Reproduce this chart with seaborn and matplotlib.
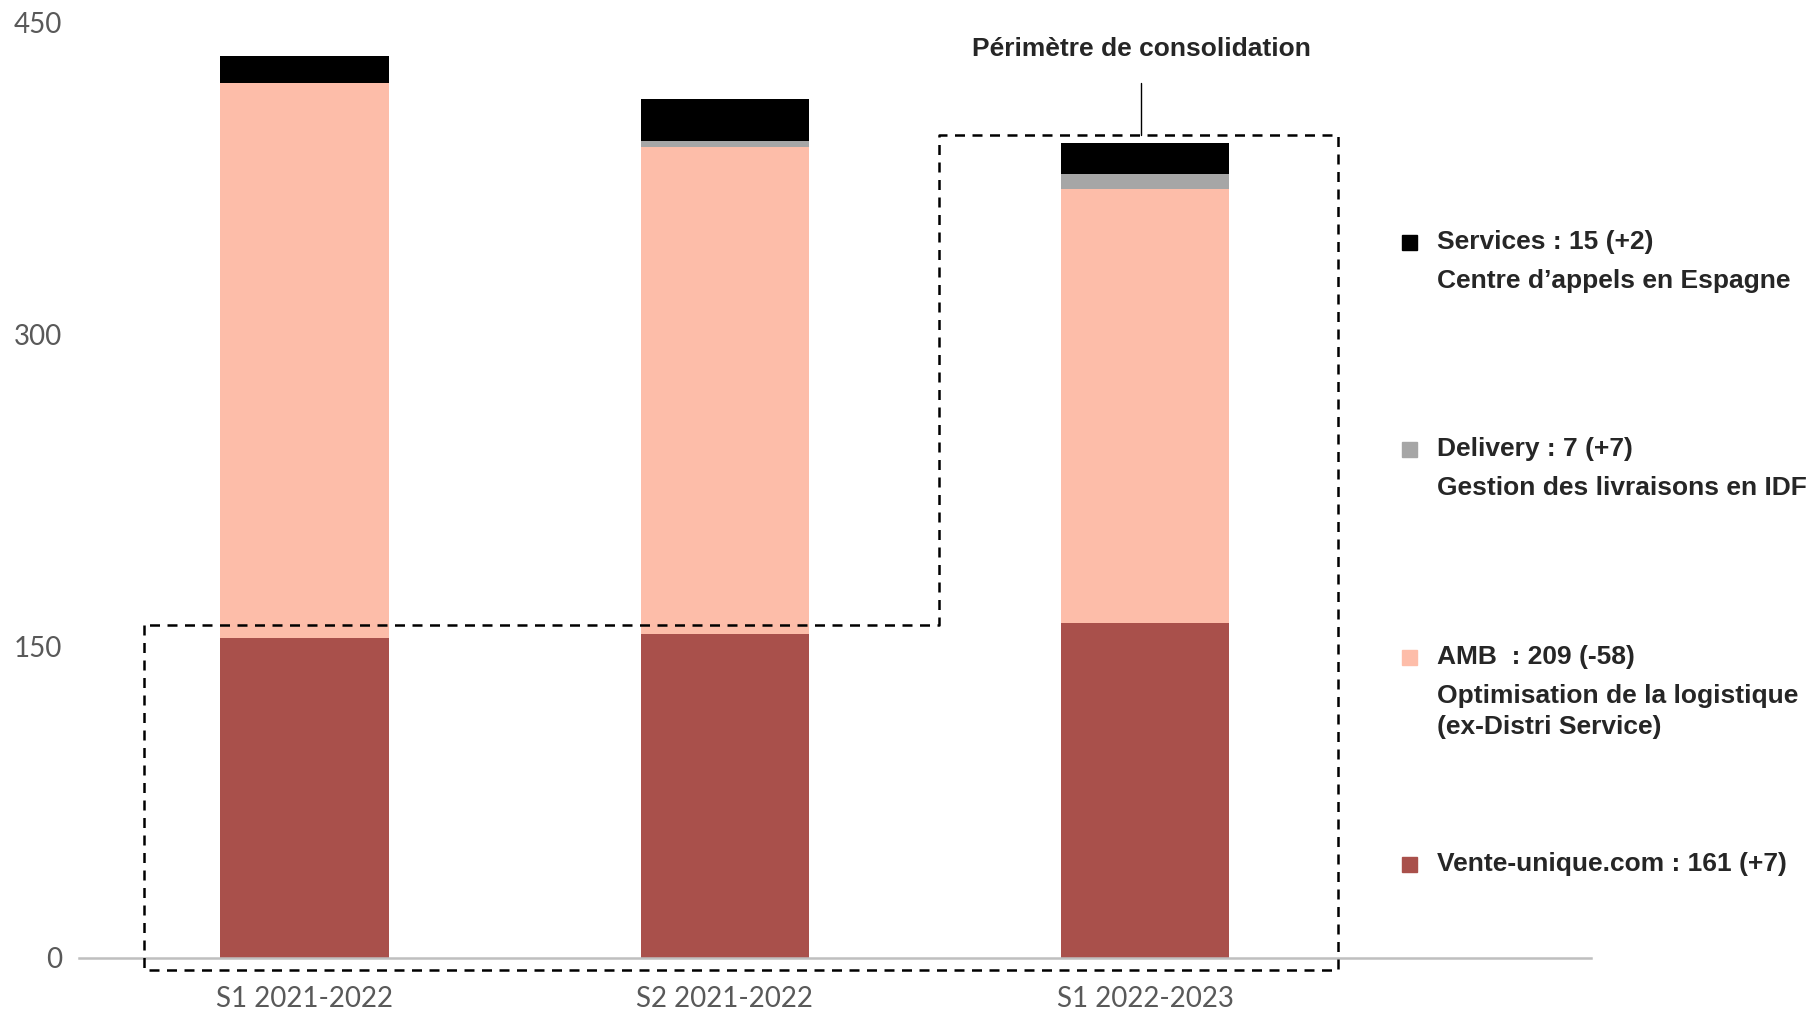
import numpy as np
import pandas as pd
import matplotlib
matplotlib.use("Agg")
import matplotlib.pyplot as plt
import seaborn as sns

# data
periods = ["S1 2021-2022", "S2 2021-2022", "S1 2022-2023"]
vente_unique = [154, 156, 161]
amb = [267, 234, 209]
delivery = [0, 3, 7]
services = [13, 20, 15]

layers = ["Vente-unique.com", "AMB", "Delivery", "Services"]
colors = ["#A9504B", "#FDBDA9", "#A6A6A6", "#000000"]
legend_titles = ["Vente-unique.com : 161 (+7)", "AMB  : 209 (-58)",
                 "Delivery : 7 (+7)", "Services : 15 (+2)"]
legend_subs = ["", "Optimisation de la logistique\n(ex-Distri Service)",
               "Gestion des livraisons en IDF", "Centre d\u2019appels en Espagne"]

sns.set_style("white")
plt.rcParams['font.family'] = ['Liberation Sans', 'DejaVu Sans']

fig = plt.figure(figsize=(18.14, 10.13), dpi=100)
ax = fig.add_axes([0.0434, 0.0543, 0.8336, 0.9237])

values = np.array([vente_unique, amb, delivery, services], dtype=float)
bottoms = np.vstack([np.zeros(len(periods)), np.cumsum(values, axis=0)[:-1]])

for i, name in enumerate(layers):
    df = pd.DataFrame({"period": periods, "value": values[i], "bottom": bottoms[i]})
    sns.barplot(data=df, x="period", y="value", bottom=df["bottom"], color=colors[i],
                width=0.40, ax=ax, saturation=1, linewidth=0)

ax.set_xlim(-0.537, 3.06)
ax.set_ylim(0, 450)
ax.set_yticks([0, 150, 300, 450])
ax.set_xlabel("")
ax.set_ylabel("")
for s in ["left", "right", "top"]:
    ax.spines[s].set_visible(False)
ax.spines["bottom"].set_color("#BFBFBF")
ax.spines["bottom"].set_linewidth(1.8)
ax.tick_params(axis="both", length=0, labelsize=20, labelcolor="#595959")
ax.tick_params(axis="y", pad=12)
ax.tick_params(axis="x", pad=20)
for lab in ax.get_xticklabels() + ax.get_yticklabels():
    lab.set_fontfamily("Lato")

# consolidation perimeter (dashed outline)
px = [-0.382, -0.382, 2.459, 2.459, 1.510, 1.510, -0.382]
py = [160, -5.6, -5.6, 396, 396, 160, 160]
ax.plot(px, py, color="black", lw=1.8, ls=(0, (4, 3)), clip_on=False, zorder=5)
ax.plot([1.99, 1.99], [396, 421], color="black", lw=1, clip_on=False)
ax.text(1.99, 437, "Périmètre de consolidation", ha="center", va="center",
        fontsize=19, fontweight="bold", clip_on=False)

# custom legend on the right
ys = [864, 657, 448.5, 241.5]
for i in range(len(layers)):
    y = 1 - ys[i] / 1013
    fig.patches.append(plt.Rectangle((1402 / 1814, y - 8 / 1013), 15 / 1814, 15 / 1013,
                                     transform=fig.transFigure, color=colors[i]))
    fig.text(1437 / 1814, y, legend_titles[i], ha="left", va="center",
             fontsize=19, fontweight="bold")
    if legend_subs[i]:
        fig.text(1437 / 1814, y - 27 / 1013, legend_subs[i], ha="left", va="top",
                 fontsize=19, fontweight="bold", linespacing=1.35)

fig.savefig("out.png", dpi=100)
